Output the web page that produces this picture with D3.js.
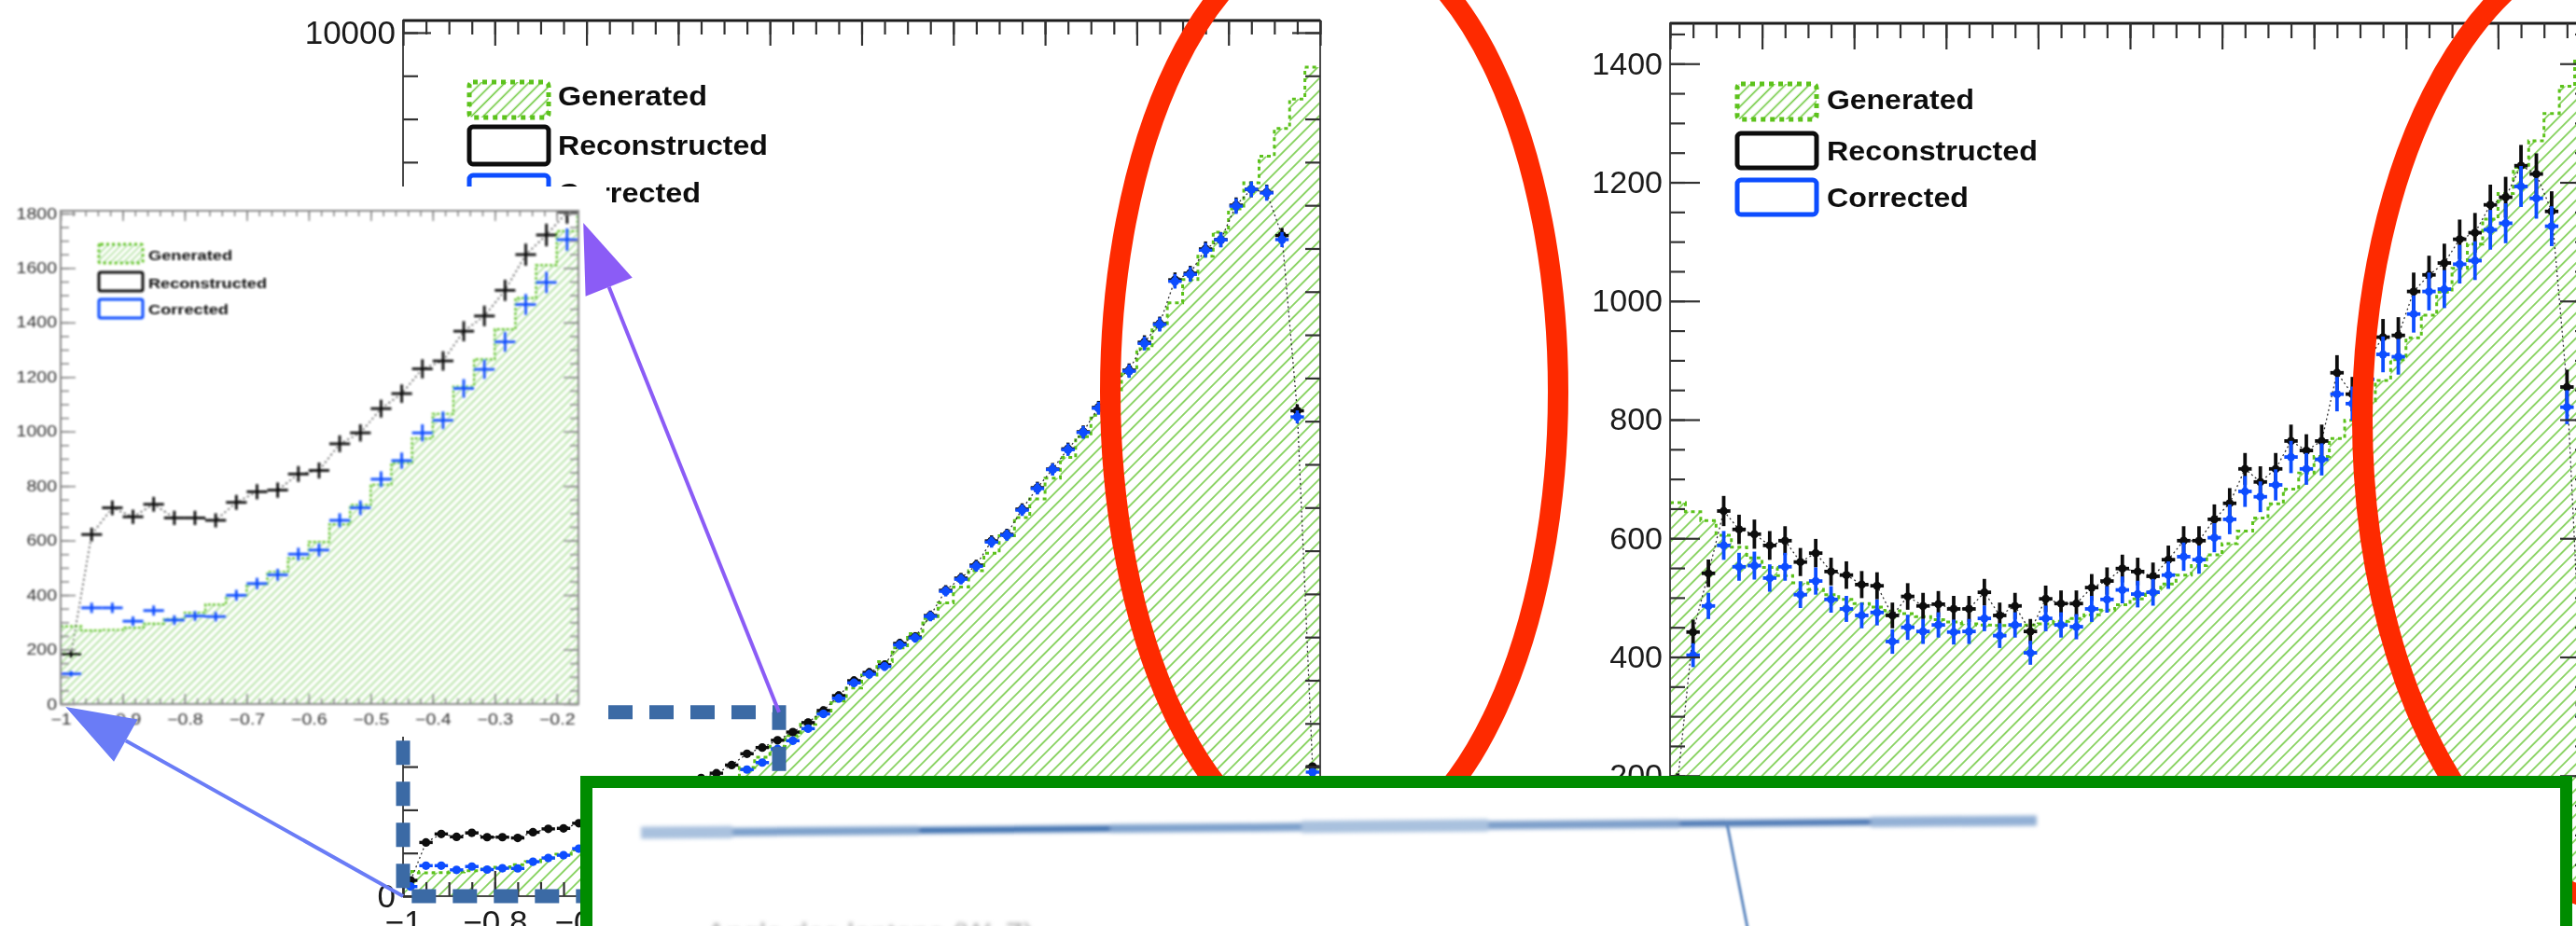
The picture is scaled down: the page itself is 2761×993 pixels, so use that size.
<!DOCTYPE html>
<html>
<head>
<meta charset="utf-8">
<title>Generated, reconstructed and corrected distributions</title>
<script src="https://cdn.jsdelivr.net/npm/d3@7/dist/d3.min.js"></script>
<style>
  html, body { margin: 0; padding: 0; background: #fff; overflow: hidden; }
  svg { display: block; font-family: "Liberation Sans", Arial, Helvetica, sans-serif; }
</style>
</head>
<body>
<svg id="fig" width="2761" height="993" viewBox="0 0 2761 993"></svg>
<script>
// ---------------- data: 60 equal bins on [-1, 1] ----------------
const nBins = 60;

// left panel (its first bins are also shown magnified in the inset)
const leftGenerated = [285, 270, 272, 280, 295, 312, 335, 365, 400, 440, 485, 535, 595, 660, 730, 805, 885, 975, 1065, 1165, 1265, 1375, 1490, 1610, 1735,
  1860, 1990, 2125, 2260, 2410, 2560, 2715, 2875, 3040, 3215, 3395, 3580, 3770, 3970, 4175, 4385, 4600, 4840, 5080, 5320, 5570, 5830, 6080, 6340, 6600, 6870, 7140, 7410, 7690, 7960, 8260, 8570, 8890, 9230, 9600];
const leftReconstructed = [183, 622, 720, 687, 733, 683, 683, 674, 740, 779, 785, 844, 857, 955, 995, 1084, 1139, 1230, 1259, 1368, 1424, 1518, 1649, 1721,
  1805, 1900, 2010, 2150, 2322, 2495, 2590, 2678, 2927, 3002, 3250, 3542, 3683, 3834, 4114, 4190, 4482, 4730, 4946, 5180, 5378, 5660, 5950, 6091, 6415, 6630, 7138, 7214, 7495, 7603, 8002, 8185, 8150, 7650, 5620, 1500];
const leftCorrected = [111, 353, 353, 304, 343, 308, 323, 321, 399, 442, 474, 550, 565, 674, 720, 825, 893, 995, 1041, 1158, 1228, 1329, 1466, 1547, 1704,
  1800, 1940, 2110, 2290, 2470, 2570, 2660, 2910, 2990, 3240, 3530, 3670, 3820, 4100, 4180, 4470, 4720, 4940, 5170, 5370, 5650, 5940, 6080, 6400, 6620, 7120, 7200, 7480, 7600, 7990, 8185, 8143, 7603, 5550, 1436];

// right panel
const rightGenerated = [660, 645, 630, 605, 585, 567, 551, 537, 525, 514, 505, 497, 490, 484, 478, 473, 468, 463, 459, 456,
  454, 453, 453, 454, 456, 460, 465, 471, 479, 488, 498, 510, 523, 538, 554, 572, 591, 612, 634, 658,
  683, 710, 738, 768, 799, 832, 866, 901, 938, 976, 1015, 1055, 1096, 1138, 1181, 1225, 1270, 1316, 1362, 1410];
const rightReconstructed = [190, 442, 541, 646, 615, 607, 588, 596, 560, 575, 544, 538, 522, 520, 470, 502, 486, 489, 481, 481,
  509, 470, 486, 443, 498, 490, 490, 517, 528, 549, 544, 536, 564, 596, 596, 632, 659, 717, 695, 717,
  764, 748, 764, 879, 843, 900, 939, 942, 1016, 1044, 1064, 1104, 1115, 1162, 1175, 1228, 1214, 1151, 855, 320];
const rightCorrected = [170, 403, 486, 588, 552, 554, 533, 552, 505, 528, 497, 481, 470, 475, 426, 450, 443, 454, 442, 443,
  465, 436, 454, 407, 465, 454, 451, 481, 497, 513, 506, 509, 538, 569, 564, 601, 632, 679, 670, 690,
  737, 717, 733, 843, 827, 868, 910, 906, 978, 1016, 1020, 1062, 1068, 1120, 1131, 1193, 1173, 1126, 821, 300];

// legend entries and labelled tick values
const legendLabels = ["Generated", "Reconstructed", "Corrected"];
const leftYLabels = [0, 10000];
const rightYLabels = [0, 200, 400, 600, 800, 1000, 1200, 1400];
const insetYLabels = [0, 200, 400, 600, 800, 1000, 1200, 1400, 1600, 1800];
const mainXLabels = [-1, -0.8, -0.6, -0.4, -0.2, 0, 0.2, 0.4, 0.6, 0.8, 1];
const insetXLabels = [-1, -0.9, -0.8, -0.7, -0.6, -0.5, -0.4, -0.3, -0.2];

// ---------------- styles ----------------
const FONT = '"Liberation Sans", Arial, Helvetica, sans-serif';
const GREEN = "#5cc21a";
const BLACK = "#111111";
const BLUE = "#0d4dff";
const BOX_LEFT = 622;   // outer left edge of the framed panel at the bottom

const svg = d3.select("#fig");
svg.append("rect").attr("width", 2761).attr("height", 993).attr("fill", "#fff");
const defs = svg.append("defs");

function hatch(id, gap, color, width) {
  const p = defs.append("pattern").attr("id", id)
    .attr("patternUnits", "userSpaceOnUse")
    .attr("width", gap).attr("height", gap)
    .attr("patternTransform", "rotate(45)");
  p.append("line").attr("x1", gap / 2).attr("y1", 0).attr("x2", gap / 2).attr("y2", gap)
    .attr("stroke", color).attr("stroke-width", width);
}
hatch("hatchMain", 9.5, "#6cc83c", 1.5);
hatch("hatchInset", 6, "#93d67a", 1.3);
hatch("hatchKey", 9, "#6cc83c", 1.6);
hatch("hatchKeySmall", 5, "#93d67a", 1.2);

function blur(id, sd) {
  defs.append("filter").attr("id", id)
    .attr("filterUnits", "userSpaceOnUse")
    .attr("x", 0).attr("y", 0).attr("width", 2761).attr("height", 993)
    .append("feGaussianBlur").attr("stdDeviation", sd);
}
blur("soft", 0.55);
blur("softer", 1.1);
blur("haze", 2.2);
blur("hazeThin", 0.9);

const lo = i => -1 + i * 2 / nBins;
const hi = i => lo(i + 1);
const mid = i => lo(i) + 1 / nBins;

function grid(domain, step) {
  const k0 = Math.ceil(domain[0] / step - 1e-9), k1 = Math.floor(domain[1] / step + 1e-9);
  return d3.range(k0, k1 + 1).map(k => +(k * step).toFixed(6));
}

// One histogram panel: hatched "generated" histogram, reconstructed and corrected
// points with Poisson error bars, ROOT-style frame with inward ticks, legend.
function drawPanel(cfg) {
  const g = svg.append("g").attr("class", cfg.id);
  if (cfg.filter) g.attr("filter", `url(#${cfg.filter})`);
  const x = d3.scaleLinear().domain(cfg.xDomain).range([cfg.left, cfg.right]);
  const y = d3.scaleLinear().domain(cfg.yDomain).range([cfg.bottom, cfg.top]);
  const W = cfg.right - cfg.left, H = cfg.bottom - cfg.top;

  defs.append("clipPath").attr("id", cfg.id + "-clip").append("rect")
    .attr("x", cfg.left).attr("y", cfg.top).attr("width", W).attr("height", H);

  const body = g.append("g").attr("clip-path", `url(#${cfg.id}-clip)`);
  const all = d3.range(nBins);
  const shown = all.filter(i => mid(i) < cfg.xDomain[1]);

  // generated histogram: hatched area + dotted outline
  const steps = all.flatMap(i => [[lo(i), cfg.generated[i]], [hi(i), cfg.generated[i]]]);
  body.append("path").datum(steps)
    .attr("d", d3.area().x(d => x(d[0])).y0(y(0)).y1(d => y(d[1])))
    .attr("fill", `url(#${cfg.hatch})`);
  body.append("path").datum(steps)
    .attr("d", d3.line().x(d => x(d[0])).y(d => y(d[1])))
    .attr("fill", "none").attr("stroke", GREEN)
    .attr("stroke-width", cfg.genWidth).attr("stroke-dasharray", cfg.genDash);

  // thin dotted guide through the reconstructed points
  body.append("path").datum(shown)
    .attr("d", d3.line().x(i => x(mid(i))).y(i => y(cfg.reconstructed[i])))
    .attr("fill", "none").attr("stroke", "#333").attr("stroke-width", cfg.guideWidth)
    .attr("stroke-dasharray", "2 3");

  function series(vals, color) {
    const s = body.append("g").attr("stroke", color).attr("fill", color)
      .attr("stroke-width", cfg.pointWidth);
    const p = s.selectAll("g").data(shown).join("g");
    p.append("line")
      .attr("x1", i => x(lo(i)) + cfg.barInset).attr("x2", i => x(hi(i)) - cfg.barInset)
      .attr("y1", i => y(vals[i])).attr("y2", i => y(vals[i]));
    p.append("line")
      .attr("x1", i => x(mid(i))).attr("x2", i => x(mid(i)))
      .attr("y1", i => y(vals[i] - Math.sqrt(vals[i]))).attr("y2", i => y(vals[i] + Math.sqrt(vals[i])));
    if (cfg.markerR > 0) {
      p.append("circle").attr("cx", i => x(mid(i))).attr("cy", i => y(vals[i]))
        .attr("r", cfg.markerR).attr("stroke", "none");
    }
  }
  series(cfg.reconstructed, BLACK);
  series(cfg.corrected, BLUE);

  // frame
  g.append("rect").attr("x", cfg.left).attr("y", cfg.top).attr("width", W).attr("height", H)
    .attr("fill", "none").attr("stroke", cfg.frameColor).attr("stroke-width", cfg.frameWidth);
  g.append("line").attr("x1", cfg.left).attr("x2", cfg.right).attr("y1", cfg.top).attr("y2", cfg.top)
    .attr("stroke", cfg.topColor).attr("stroke-width", cfg.topWidth);

  // inward ticks on all four sides
  const ax = g.append("g");
  function addTicks(axisFn, scale, vals, len, tx, ty) {
    const a = ax.append("g").attr("transform", `translate(${tx},${ty})`)
      .call(axisFn(scale).tickValues(vals).tickSize(-len).tickFormat(""));
    a.select(".domain").remove();
    a.selectAll("line").attr("stroke", cfg.tickColor).attr("stroke-width", cfg.tickWidth);
  }
  const xMinor = grid(cfg.xDomain, cfg.xMinor), xMajor = grid(cfg.xDomain, cfg.xMajor);
  const yMinor = grid(cfg.yDomain, cfg.yMinor), yMajor = grid(cfg.yDomain, cfg.yMajor);
  addTicks(d3.axisTop, x, xMinor, cfg.xMinorLen, 0, cfg.top);
  addTicks(d3.axisTop, x, xMajor, cfg.xMajorLen, 0, cfg.top);
  addTicks(d3.axisBottom, x, xMinor, cfg.xMinorLen, 0, cfg.bottom);
  addTicks(d3.axisBottom, x, xMajor, cfg.xMajorLen, 0, cfg.bottom);
  addTicks(d3.axisLeft, y, yMinor, cfg.yMinorLen, cfg.left, 0);
  addTicks(d3.axisLeft, y, yMajor, cfg.yMajorLen, cfg.left, 0);
  addTicks(d3.axisRight, y, yMinor, cfg.yMinorLen, cfg.right, 0);
  addTicks(d3.axisRight, y, yMajor, cfg.yMajorLen, cfg.right, 0);

  function addLabels(axisFn, scale, vals, pad, tx, ty) {
    if (!vals.length) return;
    const a = ax.append("g").attr("transform", `translate(${tx},${ty})`)
      .call(axisFn(scale).tickValues(vals).tickSize(0).tickPadding(pad).tickFormat(d3.format("~g")));
    a.select(".domain").remove();
    a.selectAll(".tick line").remove();
    a.attr("font-size", null).attr("font-family", null);
    a.selectAll("text").attr("font-size", cfg.labelSize).attr("fill", cfg.labelColor).style("font-family", FONT);
    if (cfg.labelStretch !== 1) {
      a.selectAll("text").each(function () {
        const L = this.getComputedTextLength();
        d3.select(this).attr("textLength", L * cfg.labelStretch).attr("lengthAdjust", "spacingAndGlyphs");
      });
    }
  }
  addLabels(d3.axisLeft, y, cfg.yLabels, cfg.yPad, cfg.left, 0);
  // x labels that would sit entirely under the framed panel below are not drawn
  addLabels(d3.axisBottom, x, cfg.xLabels.filter(v => x(v) < cfg.xLabelLimit), cfg.xPad, 0, cfg.bottom);

  // legend
  const L = cfg.legend;
  const lg = g.append("g");
  L.rows.forEach((row, k) => {
    const r = lg.append("rect").attr("x", L.boxX).attr("y", row.y)
      .attr("width", L.boxW).attr("height", row.h).attr("rx", L.rx);
    if (k === 0) {
      r.attr("fill", `url(#${L.hatch})`).attr("stroke", GREEN)
        .attr("stroke-width", L.lw).attr("stroke-dasharray", L.dash);
    } else {
      r.attr("fill", "none").attr("stroke", k === 1 ? BLACK : BLUE).attr("stroke-width", L.lw);
    }
    lg.append("text").attr("x", L.textX).attr("y", row.base)
      .attr("font-size", L.size).attr("font-weight", "bold").attr("fill", BLACK)
      .attr("textLength", row.w).attr("lengthAdjust", "spacingAndGlyphs")
      .style("font-family", FONT)
      .text(legendLabels[k]);
  });
  return { x, y };
}

// ---------------- left panel ----------------
const left = drawPanel({
  id: "leftPanel", filter: "soft",
  left: 432, right: 1415, top: 22, bottom: 961,
  xDomain: [-1, 1], yDomain: [0, 10140],
  generated: leftGenerated, reconstructed: leftReconstructed, corrected: leftCorrected,
  hatch: "hatchMain", genWidth: 3, genDash: "4 4", guideWidth: 1.3,
  pointWidth: 3.4, markerR: 4.6, barInset: 1,
  frameColor: "#4a4a4a", frameWidth: 2, topColor: "#1a1a1a", topWidth: 3,
  tickColor: "#333", tickWidth: 2.2,
  xMinor: 0.05, xMajor: 0.2, xMinorLen: 15, xMajorLen: 27,
  yMinor: 500, yMajor: 10000, yMinorLen: 16, yMajorLen: 30,
  yLabels: leftYLabels, xLabels: mainXLabels, xLabelLimit: BOX_LEFT + 10, yPad: 8, xPad: 15,
  labelSize: 35, labelColor: "#1a1a1a", labelStretch: 1,
  legend: {
    boxX: 503, boxW: 85, rx: 4, lw: 5, dash: "5 5", hatch: "hatchKey", textX: 598, size: 30,
    rows: [{ y: 88, h: 38, base: 113, w: 160 }, { y: 136, h: 40, base: 166, w: 225 }, { y: 188, h: 40, base: 217, w: 153 }]
  }
});

// ---------------- right panel ----------------
drawPanel({
  id: "rightPanel", filter: "soft",
  left: 1790, right: 2776, top: 25, bottom: 959,
  xDomain: [-1, 1], yDomain: [0, 1468],
  generated: rightGenerated, reconstructed: rightReconstructed, corrected: rightCorrected,
  hatch: "hatchMain", genWidth: 3, genDash: "4 4", guideWidth: 1.3,
  pointWidth: 3.8, markerR: 4.4, barInset: 1,
  frameColor: "#4a4a4a", frameWidth: 2, topColor: "#1a1a1a", topWidth: 3,
  tickColor: "#333", tickWidth: 2.2,
  xMinor: 0.05, xMajor: 0.2, xMinorLen: 16, xMajorLen: 28,
  yMinor: 50, yMajor: 200, yMinorLen: 16, yMajorLen: 32,
  yLabels: rightYLabels, xLabels: mainXLabels, xLabelLimit: BOX_LEFT + 10, yPad: 8, xPad: 15,
  labelSize: 34, labelColor: "#1a1a1a", labelStretch: 1,
  legend: {
    boxX: 1862, boxW: 85, rx: 4, lw: 5, dash: "5 5", hatch: "hatchKey", textX: 1958, size: 30,
    rows: [{ y: 90, h: 38, base: 117, w: 158 }, { y: 143, h: 37, base: 172, w: 226 }, { y: 193, h: 37, base: 222, w: 152 }]
  }
});

// dashed box marking the magnified region of the left panel
const zoomRegion = { x0: -1, x1: -0.18, y0: 0, y1: 2130 };
svg.append("rect")
  .attr("x", left.x(zoomRegion.x0)).attr("y", left.y(zoomRegion.y1))
  .attr("width", left.x(zoomRegion.x1) - left.x(zoomRegion.x0))
  .attr("height", left.y(zoomRegion.y0) - left.y(zoomRegion.y1))
  .attr("fill", "none").attr("stroke", "#3b6aa5").attr("stroke-width", 15)
  .attr("stroke-dasharray", "26 18");

// backdrop of the magnified view
svg.append("rect").attr("x", 0).attr("y", 200).attr("width", 650).attr("height", 590).attr("fill", "#fff");

// ---------------- inset: magnified view of the left panel ----------------
const inset = drawPanel({
  id: "insetPanel", filter: "softer",
  left: 65, right: 620, top: 226, bottom: 755,
  xDomain: [-1, -0.165], yDomain: [0, 1810],
  generated: leftGenerated, reconstructed: leftReconstructed, corrected: leftCorrected,
  hatch: "hatchInset", genWidth: 2.2, genDash: "3 2", guideWidth: 1.4,
  pointWidth: 2.8, markerR: 1.8, barInset: 0,
  frameColor: "#8a8a8a", frameWidth: 2, topColor: "#8a8a8a", topWidth: 2,
  tickColor: "#8a8a8a", tickWidth: 1.6,
  xMinor: 0.02, xMajor: 0.1, xMinorLen: 6, xMajorLen: 11,
  yMinor: 50, yMajor: 200, yMinorLen: 9, yMajorLen: 16,
  yLabels: insetYLabels, xLabels: insetXLabels, xLabelLimit: 2761, yPad: 4, xPad: 11,
  labelSize: 16, labelColor: "#333", labelStretch: 1.22,
  legend: {
    boxX: 106, boxW: 47, rx: 2, lw: 3, dash: "3 3", hatch: "hatchKeySmall", textX: 159, size: 15,
    rows: [{ y: 262, h: 20, base: 279, w: 90 }, { y: 292, h: 20, base: 309, w: 127 }, { y: 321, h: 20, base: 337, w: 86 }]
  }
});

// ---------------- arrows linking the dashed box to the inset ----------------
function arrow(from, to, color, width, headLen, headHalf, tipBack) {
  const dx = from[0] - to[0], dy = from[1] - to[1];
  const len = Math.hypot(dx, dy), ux = dx / len, uy = dy / len;
  const tip = [to[0] + ux * tipBack, to[1] + uy * tipBack];
  const base = [tip[0] + ux * headLen, tip[1] + uy * headLen];
  const px = -uy, py = ux;
  svg.append("line").attr("x1", from[0]).attr("y1", from[1]).attr("x2", base[0]).attr("y2", base[1])
    .attr("stroke", color).attr("stroke-width", width);
  svg.append("path").attr("fill", color)
    .attr("d", d3.line()([tip, [base[0] + px * headHalf, base[1] + py * headHalf], [base[0] - px * headHalf, base[1] - py * headHalf]]) + "Z");
}
arrow([left.x(zoomRegion.x1), left.y(zoomRegion.y1)], [inset.x(-0.165), inset.y(1810)], "#8b5cf6", 4, 74, 27, 14);
arrow([left.x(zoomRegion.x0), left.y(zoomRegion.y0)], [inset.x(-1), inset.y(0)], "#6a7cf6", 4, 74, 26, 6);

// ---------------- highlight ellipses ----------------
svg.append("ellipse").attr("cx", 1430).attr("cy", 420).attr("rx", 240).attr("ry", 495)
  .attr("fill", "none").attr("stroke", "#fe2a00").attr("stroke-width", 22);
svg.append("ellipse").attr("cx", 2822).attr("cy", 450).attr("rx", 290).attr("ry", 520)
  .attr("fill", "none").attr("stroke", "#fe2a00").attr("stroke-width", 22);

// ---------------- framed panel at the bottom ----------------
svg.append("rect").attr("x", BOX_LEFT + 6.5).attr("y", 838.5).attr("width", 2122).attr("height", 400)
  .attr("fill", "#fff").attr("stroke", "#008c00").attr("stroke-width", 13);

const band = svg.append("g").attr("filter", "url(#haze)");
const bandY = xx => 893 - (xx - 687) * 0.0087;
const bandSegments = [
  [687, 785, "#a9c1de", 13], [785, 985, "#7da0cb", 9], [985, 1190, "#3e6faf", 7], [1190, 1395, "#7ea1cc", 9],
  [1395, 1595, "#a9c1de", 13], [1595, 1800, "#7d9fca", 9], [1800, 2005, "#4876b3", 7], [2005, 2183, "#93b0d5", 11]
];
bandSegments.forEach(s => {
  band.append("line").attr("x1", s[0]).attr("x2", s[1]).attr("y1", bandY(s[0])).attr("y2", bandY(s[1]))
    .attr("stroke", s[2]).attr("stroke-width", s[3]);
});
svg.append("line").attr("x1", 1851).attr("y1", bandY(1851)).attr("x2", 1874).attr("y2", 1000)
  .attr("stroke", "#5d87bf").attr("stroke-width", 3).attr("filter", "url(#hazeThin)");
svg.append("text").attr("x", 757).attr("y", 1012).attr("font-size", 32).attr("fill", "#a8a8a8")
  .attr("filter", "url(#haze)").style("font-family", FONT)
  .text("Angle des leptons (W, Z)");
</script>
</body>
</html>
